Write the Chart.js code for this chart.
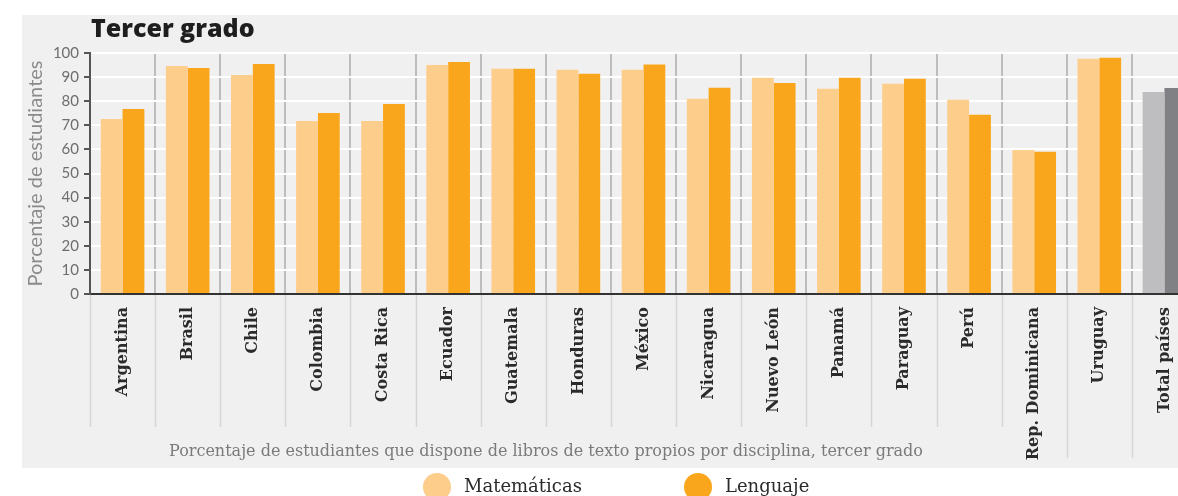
<!DOCTYPE html>
<html>
<head>
<meta charset="utf-8">
<script src="https://cdn.jsdelivr.net/npm/chart.js@4/dist/chart.umd.min.js"></script>
<style>
  html, body { margin: 0; padding: 0; background: #fff; overflow: hidden; }
  #wrap { width: 1178px; height: 496px; overflow: hidden; position: relative; }
  canvas { position: absolute; left: 0; top: 0; }
</style>
</head>
<body>
<div id="wrap"><canvas id="chart" width="1210" height="496"></canvas></div>
<script>
// data
const countries = ['Argentina', 'Brasil', 'Chile', 'Colombia', 'Costa Rica', 'Ecuador', 'Guatemala', 'Honduras',
    'México', 'Nicaragua', 'Nuevo León', 'Panamá', 'Paraguay', 'Perú', 'Rep. Dominicana', 'Uruguay', 'Total países'];
const matematicas = [72.6, 94.6, 90.9, 71.8, 71.8, 95.0, 93.5, 93.1, 93.1, 81.0, 89.7, 85.2, 87.2, 80.6, 59.8, 97.6, 83.8];
const lenguaje = [76.8, 93.8, 95.4, 75.1, 78.8, 96.3, 93.5, 91.4, 95.2, 85.6, 87.6, 89.7, 89.3, 74.4, 59.0, 98.0, 85.5];
const yTicks = [0, 10, 20, 30, 40, 50, 60, 70, 80, 90, 100];

const chartTitle = 'Tercer grado';
const yTitle = 'Porcentaje de estudiantes';
const xCaption = 'Porcentaje de estudiantes que dispone de libros de texto propios por disciplina, tercer grado';

const matColor = '#fdcd8c', lenColor = '#f9a61c';
const totalMatColor = '#bebec0', totalLenColor = '#808184';
const isTotal = i => countries[i] === 'Total países';

const serif = '"DejaVu Serif", serif';

// background panel, title, separators below the axis, caption, legend
const decor = {
    id: 'decor',
    beforeDraw(chart) {
        const ctx = chart.ctx;
        ctx.save();
        ctx.fillStyle = '#f0f0f0';
        ctx.fillRect(22, 15, chart.width - 22, 453);
        ctx.restore();
    },
    afterDraw(chart) {
        const ctx = chart.ctx;
        const x = chart.scales.x;
        const area = chart.chartArea;
        const step = x.getPixelForValue(1) - x.getPixelForValue(0);
        ctx.save();

        // category separators continuing under the axis
        ctx.strokeStyle = '#d6d6d6';
        ctx.lineWidth = 1.5;
        for (let i = 0; i <= countries.length; i++) {
            const edge = i < countries.length ? x.getPixelForValue(i) - step / 2 : area.right;
            const end = (i === 15 || i === 16) ? 458 : 427;
            ctx.beginPath();
            ctx.moveTo(Math.round(edge) + 0.5, area.bottom + 1);
            ctx.lineTo(Math.round(edge) + 0.5, end);
            ctx.stroke();
        }

        // title
        ctx.fillStyle = '#1e1e1e';
        ctx.font = '800 25px "Open Sans", sans-serif';
        ctx.textAlign = 'left';
        ctx.textBaseline = 'alphabetic';
        ctx.fillText(chartTitle, 91, 37);

        // caption under the labels
        ctx.fillStyle = '#7a7a7a';
        ctx.font = '16px ' + serif;
        ctx.textAlign = 'center';
        ctx.textBaseline = 'middle';
        ctx.fillText(xCaption, 546, 452);

        // legend
        const legendX = [437, 698];
        chart.data.datasets.forEach((ds, i) => {
            ctx.fillStyle = ds.legendColor;
            ctx.beginPath();
            ctx.arc(legendX[i], 487, 14, 0, Math.PI * 2);
            ctx.fill();
            ctx.fillStyle = '#2b2b2b';
            ctx.font = '18px ' + serif;
            ctx.textAlign = 'left';
            ctx.textBaseline = 'middle';
            ctx.fillText(ds.label, legendX[i] + 27, 487);
        });
        ctx.restore();
    }
};

new Chart(document.getElementById('chart'), {
    type: 'bar',
    data: {
        labels: countries,
        datasets: [{
            label: 'Matemáticas',
            data: matematicas,
            legendColor: matColor,
            backgroundColor: ctx => isTotal(ctx.dataIndex) ? totalMatColor : matColor
        }, {
            label: 'Lenguaje',
            data: lenguaje,
            legendColor: lenColor,
            backgroundColor: ctx => isTotal(ctx.dataIndex) ? totalLenColor : lenColor
        }]
    },
    options: {
        responsive: false,
        animation: false,
        devicePixelRatio: 1,
        layout: { padding: { left: 22, top: 53, right: 13, bottom: 26 } },
        datasets: { bar: { categoryPercentage: 0.67, barPercentage: 1.0 } },
        plugins: {
            legend: { display: false },
            tooltip: { enabled: false }
        },
        scales: {
            x: {
                offset: true,
                grid: { offset: true, color: '#bdbdbd', lineWidth: 2, drawTicks: false },
                border: { display: true, color: '#333', width: 2 },
                ticks: {
                    autoSkip: false,
                    minRotation: 90,
                    maxRotation: 90,
                    padding: 13,
                    color: '#2b2b2b',
                    font: { family: serif, size: 16, weight: 'bold' }
                },
                afterFit(scale) { scale.height = 176; }
            },
            y: {
                min: 0,
                max: 100,
                afterBuildTicks(scale) { scale.ticks = yTicks.map(v => ({ value: v })); },
                grid: {
                    color: ctx => ctx.tick && ctx.tick.value === 0 ? 'rgba(0,0,0,0)' : '#ffffff',
                    lineWidth: 2,
                    tickColor: '#555',
                    tickLength: 6
                },
                border: { display: true, color: '#555', width: 2 },
                ticks: {
                    padding: 5,
                    color: '#6e6e6e',
                    font: { family: 'Lato, sans-serif', size: 15 }
                },
                title: {
                    display: true,
                    text: yTitle,
                    color: '#8a8a8a',
                    padding: { top: 2, bottom: 0 },
                    font: { family: 'Lato, sans-serif', size: 20 }
                },
                afterFit(scale) { scale.width = 68; }
            }
        }
    },
    plugins: [decor]
});
</script>
</body>
</html>
